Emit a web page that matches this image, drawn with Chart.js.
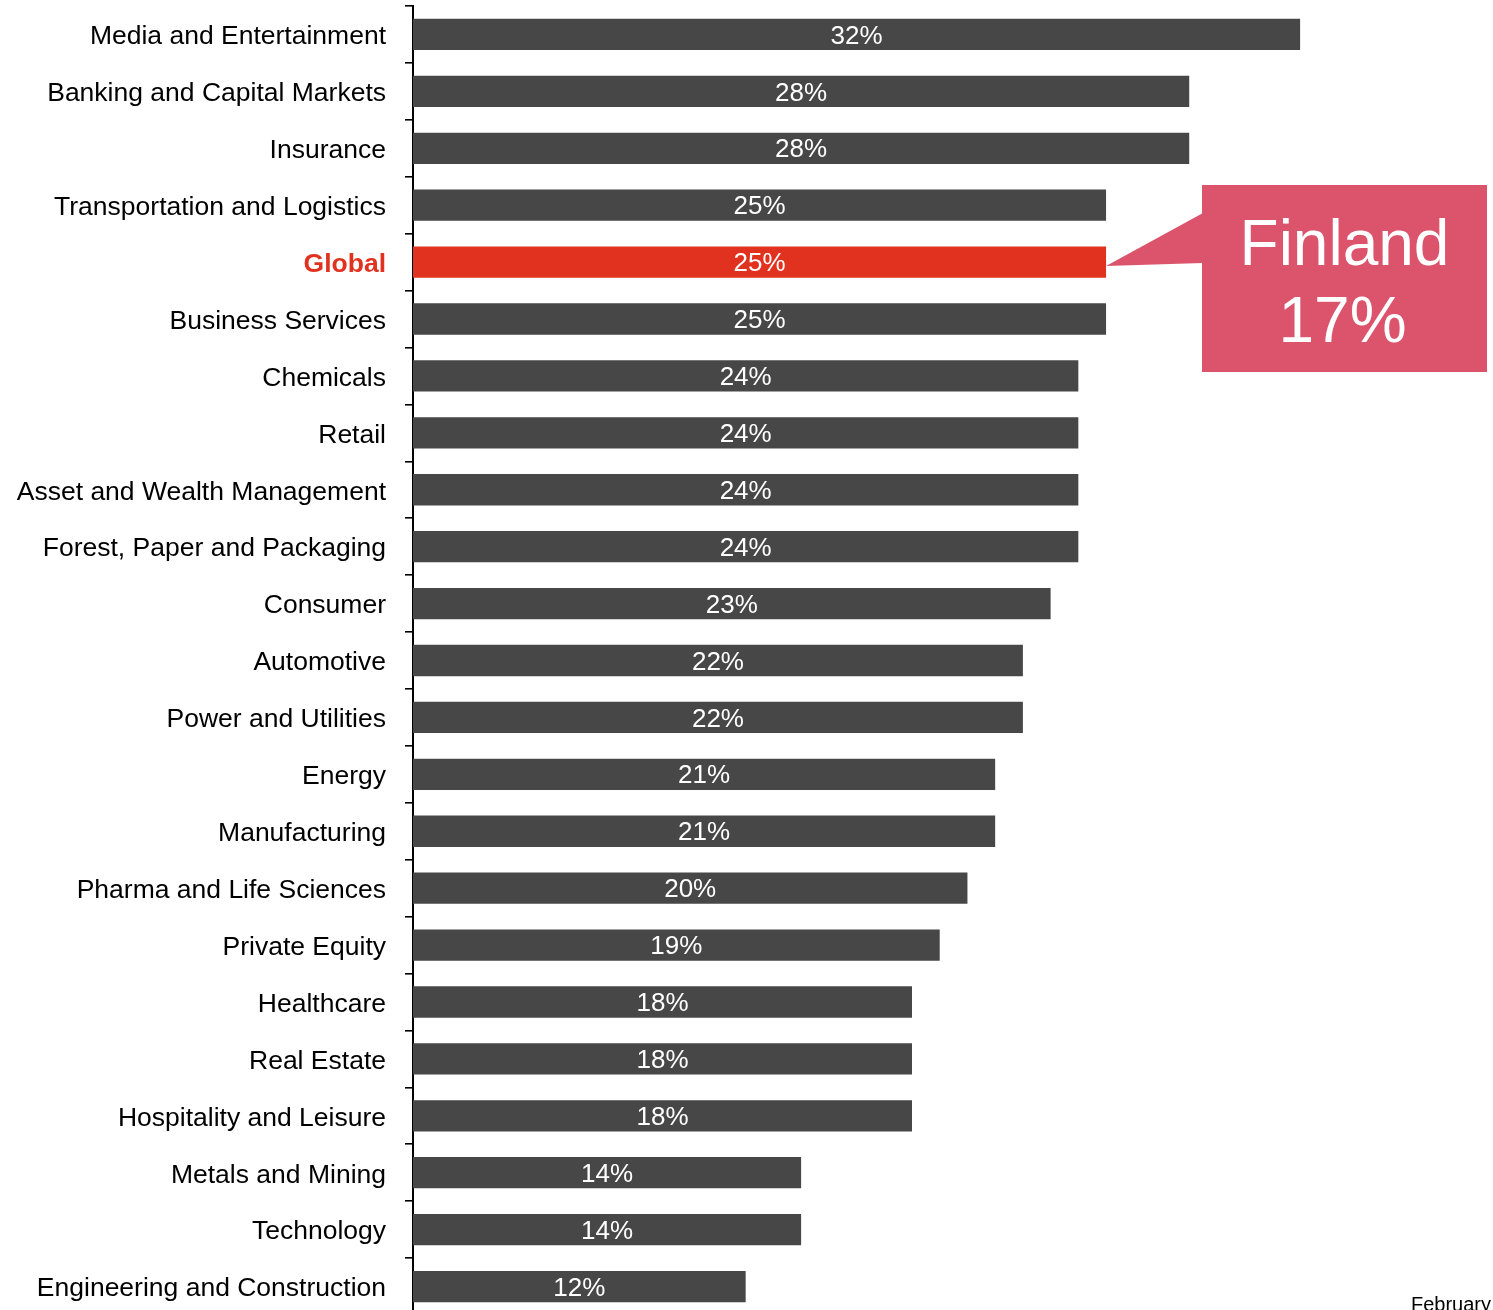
<!DOCTYPE html>
<html>
<head>
<meta charset="utf-8">
<script src="https://cdn.jsdelivr.net/npm/chart.js@4.4.1/dist/chart.umd.min.js"></script>
<style>
  html, body { margin: 0; padding: 0; background: #fff; overflow: hidden; }
  #wrap { position: relative; width: 1493px; height: 1316px; }
  #note { position: absolute; left: 1411px; top: 1293px; font: 20px "Liberation Sans", Arial, sans-serif; color: #000; white-space: nowrap; }
</style>
</head>
<body>
<div id="wrap">
  <canvas id="chart-ind"></canvas>
  <div id="note">February</div>
</div>
<script>
const industries = [
  'Media and Entertainment', 'Banking and Capital Markets', 'Insurance',
  'Transportation and Logistics', 'Global', 'Business Services', 'Chemicals',
  'Retail', 'Asset and Wealth Management', 'Forest, Paper and Packaging',
  'Consumer', 'Automotive', 'Power and Utilities', 'Energy', 'Manufacturing',
  'Pharma and Life Sciences', 'Private Equity', 'Healthcare', 'Real Estate',
  'Hospitality and Leisure', 'Metals and Mining', 'Technology',
  'Engineering and Construction'
];
const shares = [32, 28, 28, 25, 25, 25, 24, 24, 24, 24, 23, 22, 22, 21, 21, 20, 19, 18, 18, 18, 14, 14, 12];
const highlight = 'Global';
const calloutTitle = 'Finland';
const calloutValue = '17%';

const FONT = '"Liberation Sans", Arial, sans-serif';
const GREY = '#474747';
const RED = '#e0321f';

// ── 柱内百分比 + 右侧标注框 ──────────────────────────────────────────
const labelsPlugin = {
  id: 'labels',
  afterDatasetsDraw(chart) {
    const ctx = chart.ctx;
    const meta = chart.getDatasetMeta(0);
    ctx.save();
    ctx.fillStyle = '#fff';
    ctx.font = '26px ' + FONT;
    ctx.textAlign = 'center';
    ctx.textBaseline = 'middle';
    meta.data.forEach((bar, i) => {
      ctx.fillText(shares[i] + '%', (bar.x + bar.base) / 2, bar.y + 2);
    });

    // callout pointing at the highlighted bar
    const g = meta.data[industries.indexOf(highlight)];
    const bx = 1202, by = 185, bw = 285, bh = 187;
    ctx.fillStyle = '#db546c';
    ctx.beginPath();
    ctx.moveTo(bx + 1, 213);
    ctx.lineTo(g.x, g.y + 4);
    ctx.lineTo(bx + 1, 263);
    ctx.closePath();
    ctx.fill();
    ctx.fillRect(bx, by, bw, bh);
    ctx.fillStyle = '#fff';
    ctx.font = '64px ' + FONT;
    ctx.textBaseline = 'alphabetic';
    ctx.fillText(calloutTitle, bx + bw / 2, 265);
    ctx.fillText(calloutValue, bx + bw / 2 - 2, 342);
    ctx.restore();
  }
};

new Chart(document.getElementById('chart-ind'), {
  type: 'bar',
  data: {
    labels: industries,
    datasets: [{
      data: shares,
      backgroundColor: industries.map(n => n === highlight ? RED : GREY),
      categoryPercentage: 1,
      barPercentage: 0.55
    }]
  },
  options: {
    indexAxis: 'y',
    responsive: true,
    maintainAspectRatio: false,
    animation: false,
    layout: { padding: { top: 6, right: 82, bottom: 1, left: 0 } },
    plugins: { legend: { display: false }, tooltip: { enabled: false } },
    scales: {
      x: { display: false, min: 0, max: 36 },
      y: {
        afterFit: s => { s.width = 413; s.paddingTop = 0; s.paddingBottom = 0; },
        border: { display: true, color: '#000', width: 2 },
        grid: { drawOnChartArea: false, drawTicks: true, tickLength: 8, color: '#000', lineWidth: 1.6, offset: true },
        ticks: {
          padding: 19,
          labelOffset: 2.5,
          color: c => industries[c.index] === highlight ? RED : '#000',
          font: c => ({ family: FONT, size: 26.5, weight: industries[c.index] === highlight ? 'bold' : 'normal' })
        }
      }
    }
  },
  plugins: [labelsPlugin]
});
</script>
</body>
</html>
